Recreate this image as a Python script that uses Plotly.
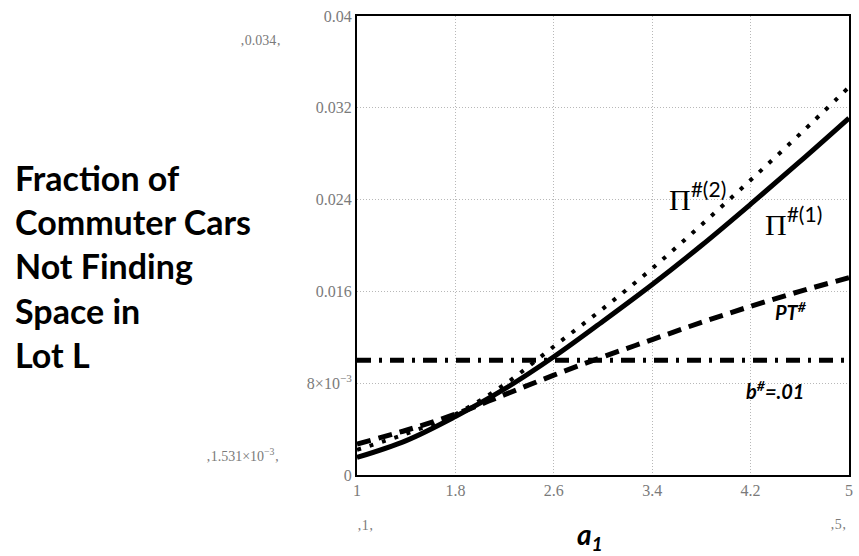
import plotly.graph_objects as go

a1 = [1.0, 1.4, 1.8, 2.2, 2.6, 3.0, 3.4, 3.8, 4.2, 4.6, 5.0]
pi1 = [0.00153, 0.0030, 0.0051, 0.0075, 0.0103, 0.0134, 0.0166, 0.0200, 0.0236, 0.0273, 0.0311]
pi2 = [0.0022, 0.0036, 0.0053, 0.0079, 0.0112, 0.0145, 0.0180, 0.0218, 0.0257, 0.0297, 0.0338]
pt = [0.0027, 0.0039, 0.0053, 0.0070, 0.0087, 0.0103, 0.0118, 0.0133, 0.0147, 0.0160, 0.0172]
b_val = 0.01

x_ticks = [1, 1.8, 2.6, 3.4, 4.2, 5]
x_ticktext = ["1", "1.8", "2.6", "3.4", "4.2", "5"]
y_ticks = [0, 0.008, 0.016, 0.024, 0.032, 0.04]
y_ticktext = ["0", "8×10<sup>−3</sup>", "0.016", "0.024", "0.032", "0.04"]

# plot area in pixels (for placing free texts)
L, R, T, B = 357, 853, 16, 475
PW, PH = R - L, B - T


def px(xp):
    return (xp - L) / PW


def py(yp):
    return (B - yp) / PH


fig = go.Figure()
fig.add_trace(go.Scatter(x=a1, y=pi1, mode="lines", line=dict(color="black", width=5, shape="spline", smoothing=1)))
fig.add_trace(go.Scatter(x=a1, y=pi2, mode="lines", line=dict(color="black", width=4, dash="4px,9px", shape="spline", smoothing=1)))
fig.add_trace(go.Scatter(x=a1, y=pt, mode="lines", line=dict(color="black", width=5, dash="14px,8px", shape="spline", smoothing=1)))
fig.add_trace(go.Scatter(x=[a1[0], a1[-1]], y=[b_val, b_val], mode="lines",
                         line=dict(color="black", width=5, dash="14px,8px,3px,8px")))

tick_font = dict(family="Liberation Serif", size=16, color="#7a7a7a")
fig.update_layout(
    width=859, height=556,
    margin=dict(l=L, r=859 - R, t=T, b=556 - B),
    paper_bgcolor="white", plot_bgcolor="white",
    showlegend=False,
    xaxis=dict(range=[1, 5], tickvals=x_ticks, ticktext=x_ticktext, tickfont=tick_font,
               showgrid=True, gridcolor="#b8b8b8", griddash="1px,2px", gridwidth=1,
               showline=True, linecolor="black", linewidth=2, mirror=True,
               ticks="", zeroline=False),
    yaxis=dict(range=[0, 0.04], tickvals=y_ticks, ticktext=y_ticktext, tickfont=tick_font,
               showgrid=True, gridcolor="#b8b8b8", griddash="1px,2px", gridwidth=1,
               showline=True, linecolor="black", linewidth=2, mirror=True,
               ticks="", zeroline=False),
)

ann = []
ann.append(dict(x=3.766, y=0.0243, xref="x", yref="y", showarrow=False,
                text="Π<sup><span style='font-family:Lato'>#(2)</span></sup>",
                font=dict(family="Liberation Serif", size=30, color="black")))
ann.append(dict(x=4.548, y=0.0221, xref="x", yref="y", showarrow=False,
                text="Π<sup><span style='font-family:Lato'>#(1)</span></sup>",
                font=dict(family="Liberation Serif", size=30, color="black")))
ann.append(dict(x=4.53, y=0.01426, xref="x", yref="y", showarrow=False,
                text="<b><i>PT<sup>#</sup></i></b>",
                font=dict(family="Lato", size=20, color="black")))
ann.append(dict(x=4.40, y=0.00739, xref="x", yref="y", showarrow=False,
                text="<b><i>b<sup>#</sup>=.01</i></b>",
                font=dict(family="Lato", size=20, color="black")))
small = dict(family="Liberation Serif", size=14, color="#7a7a7a")
for txt, xp, yp in [("‚0.034‚", 260, 40), ("‚1.531×10<sup>−3</sup>‚", 242, 455),
                    ("‚1‚", 365, 525), ("‚5‚", 842, 524)]:
    ann.append(dict(x=px(xp), y=py(yp), xref="paper", yref="paper", xanchor="center",
                    yanchor="middle", showarrow=False, text=txt, font=small))
ann.append(dict(x=px(592), y=py(536), xref="paper", yref="paper", xanchor="center", yanchor="middle",
                showarrow=False, text="<b><i>a<sub>1</sub></i></b>",
                font=dict(family="Lato", size=28, color="black")))
ann.append(dict(x=px(10), y=py(266), xref="paper", yref="paper",
                xanchor="left", yanchor="middle", align="left", showarrow=False,
                text="<b>Fraction of<br>Commuter Cars<br>Not Finding<br>Space in<br>Lot L</b>",
                font=dict(family="Lato", size=34, color="black")))
fig.update_layout(annotations=ann)

fig.write_html("out.html")
